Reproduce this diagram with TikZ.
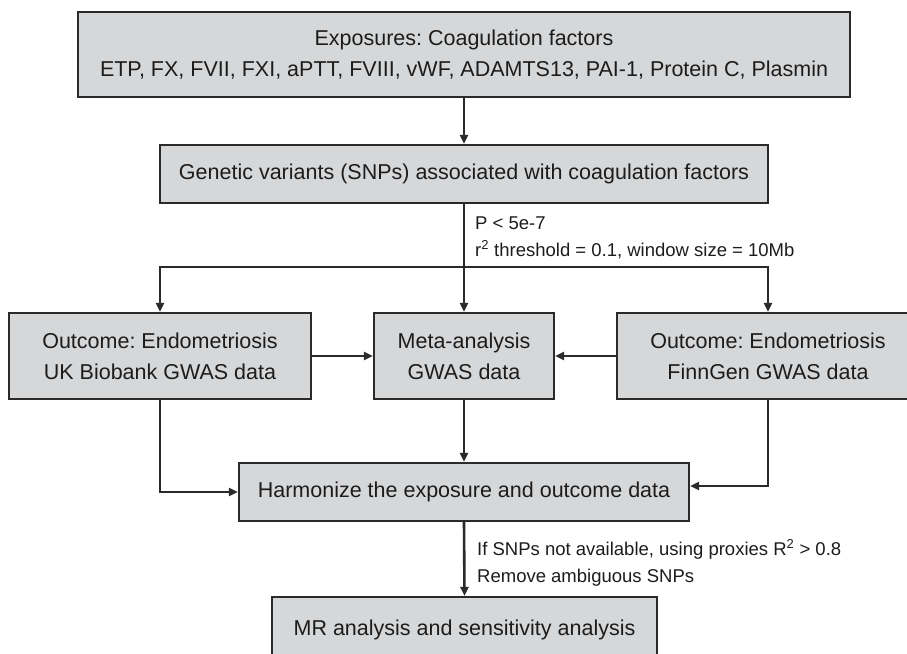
\documentclass[tikz,border=0pt]{standalone}
\usepackage{fontspec}
\setmainfont{Liberation Sans}
\usetikzlibrary{arrows.meta}
\definecolor{boxfill}{HTML}{D6D7D9}
\definecolor{boxline}{HTML}{2A2A2A}
\definecolor{txt}{HTML}{1C1C1C}
\frenchspacing
\begin{document}
\frenchspacing
\begin{tikzpicture}[x=1pt,y=-1pt,
  flowbox/.style={draw=boxline, fill=boxfill, line width=2.2pt, rectangle,
    inner sep=0pt, align=center, text=txt,
    font=\fontsize{21.5}{31}\selectfont},
  lbl/.style={inner sep=0pt, text=txt, font=\fontsize{18.5}{27}\selectfont},
  conn/.style={draw=boxline, line width=2.6pt},
  arr/.style={conn, -{Triangle[length=9pt,width=8pt]}}]
\useasboundingbox (0,0) rectangle (907,653);
\node[flowbox, minimum width=772pt, minimum height=85pt] (top) at (464,54.5)
  {Exposures: Coagulation factors\\ETP, FX, FVII, FXI, aPTT, FVIII, vWF, ADAMTS13, PAI-1, Protein C, Plasmin};
\node[flowbox, minimum width=608pt, minimum height=58pt] (snp) at (464,174)
  {Genetic variants (SNPs) associated with coagulation factors};
\node[flowbox, minimum width=302pt, minimum height=86pt] (left) at (160,356)
  {Outcome: Endometriosis\\UK Biobank GWAS data};
\node[flowbox, minimum width=180pt, minimum height=86pt] (meta) at (464,356)
  {Meta-analysis\\GWAS data};
\node[flowbox, minimum width=302pt, minimum height=86pt] (right) at (768,356)
  {Outcome: Endometriosis\\FinnGen GWAS data};
\node[flowbox, minimum width=450pt, minimum height=58pt] (harm) at (464,492)
  {Harmonize the exposure and outcome data};
\node[flowbox, minimum width=385pt, minimum height=84pt] (mr) at (464.5,639)
  {};
\node[inner sep=0pt, text=txt, font=\fontsize{21.5}{31}\selectfont, anchor=base] (mrt) at (464.5,635)
  {MR analysis and sensitivity analysis};
\coordinate (j) at (464,267);
\draw[arr] (top) -- (snp);
\draw[conn] (snp.south) -- (j);
\draw[arr] (j) -- (meta.north);
\draw[arr] (j) -| (left.north);
\draw[arr] (j) -| (right.north);
\draw[arr] (left.east) -- (meta.west);
\draw[arr] (right.west) -- (meta.east);
\draw[arr] (meta.south) -- (harm.north);
\draw[arr] (left.south) |- (harm.west);
\draw[arr] (right.south) |- ([yshift=6pt]harm.east);
\draw[arr] (harm.south) -- (mr.north);
\node[lbl, anchor=base west] (p1) at (475,229) {P < 5e-7};
\node[lbl, anchor=base west] (p2) at (475,256) {r\textsuperscript{2} threshold = 0.1, window size = 10Mb};
\node[lbl, anchor=base west] (q1) at (477,555) {If SNPs not available, using proxies R\textsuperscript{2} > 0.8};
\node[lbl, anchor=base west] (q2) at (477,582) {Remove ambiguous SNPs};
\end{tikzpicture}
\end{document}
